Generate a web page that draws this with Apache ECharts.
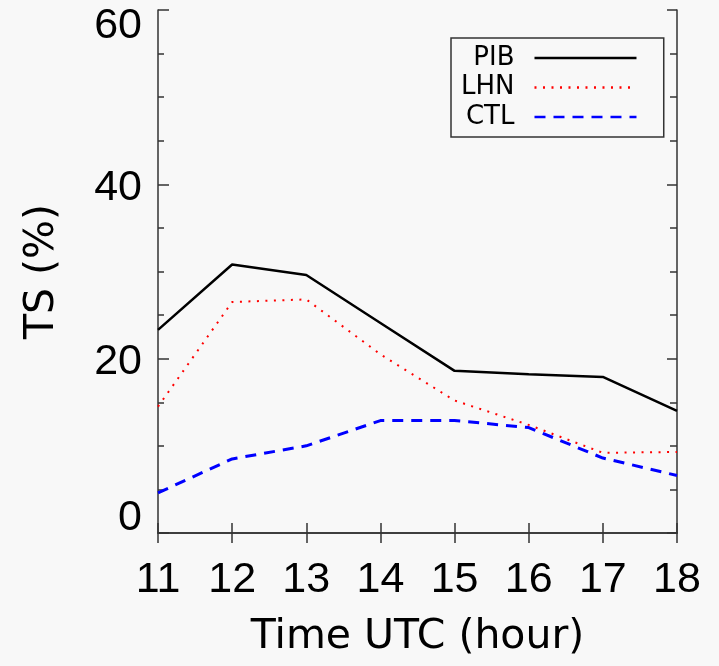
<!DOCTYPE html>
<html>
<head>
<meta charset="utf-8">
<script src="https://cdn.jsdelivr.net/npm/echarts@6/dist/echarts.min.js"></script>
<style>
  html, body { margin: 0; padding: 0; background: #f8f8f8; }
  #main { width: 719px; height: 666px; }
</style>
</head>
<body>
<div id="main"></div>
<script>
// hours (UTC)
var hours = [11, 12, 13, 14, 15, 16, 17, 18];
// TS (%) per experiment
var pib = [23.3, 30.8, 29.6, 24.1, 18.6, 18.2, 17.9, 14.0];
var lhn = [14.5, 26.5, 26.8, 20.5, 15.2, 12.4, 9.2, 9.3];
var ctl = [4.6, 8.5, 10.0, 12.9, 12.9, 12.1, 8.6, 6.6];

function pairs(vals) {
  return hours.map(function (h, i) { return [h, vals[i]]; });
}

var chart = echarts.init(document.getElementById("main"));
var frame = { show: true, lineStyle: { color: "#333", width: 1.5 } };
var numFont = "Liberation Sans";

chart.setOption({
  backgroundColor: "#f8f8f8",
  animation: false,
  grid: { left: 158, top: 10, right: 42, bottom: 133 },
  legend: {
    data: ["PIB", "LHN", "CTL"],
    orient: "vertical",
    align: "right",
    left: 451,
    top: 38,
    padding: [7, 26, 7, 10],
    itemWidth: 102,
    itemHeight: 14,
    itemGap: 3.5,
    borderColor: "#333",
    borderWidth: 1.5,
    itemStyle: { opacity: 0 },
    lineStyle: { width: 2.5 },
    textStyle: {
      fontFamily: "DejaVu Sans",
      fontSize: 26,
      color: "#000",
      width: 50,
      align: "right",
      padding: [0, 15, 0, 0],
    },
  },
  xAxis: [
    {
      type: "value",
      min: 11,
      max: 18,
      interval: 1,
      position: "bottom",
      axisLine: frame,
      axisTick: { inside: true, length: 10, lineStyle: { color: "#333", width: 1.5 } },
      splitLine: { show: false },
      axisLabel: { fontFamily: numFont, fontSize: 43, color: "#000", margin: 26 },
      name: "Time UTC (hour)",
      nameLocation: "middle",
      nameGap: 84,
      nameTextStyle: { fontFamily: "DejaVu Sans", fontSize: 41, color: "#000" },
    },
    {
      type: "value",
      min: 11,
      max: 18,
      interval: 1,
      position: "top",
      axisLine: frame,
      axisTick: { inside: true, length: 10, lineStyle: { color: "#333", width: 1.5 } },
      splitLine: { show: false },
      axisLabel: { show: false },
    },
  ],
  yAxis: [
    {
      type: "value",
      min: 0,
      max: 60,
      interval: 20,
      position: "left",
      axisLine: frame,
      axisTick: { inside: true, length: 11, lineStyle: { color: "#333", width: 1.5 } },
      minorTick: { show: true, splitNumber: 4, length: 6, lineStyle: { color: "#333", width: 1.5 } },
      splitLine: { show: false },
      axisLabel: {
        fontFamily: numFont,
        fontSize: 43,
        color: "#000",
        margin: 16,
        formatter: function (v) {
          if (v === 60) return "{top|" + v + "}";
          if (v === 0) return "{bot|" + v + "}";
          return "{mid|" + v + "}";
        },
        rich: {
          top: { fontFamily: numFont, fontSize: 43, color: "#000", padding: [32, 0, 0, 0] },
          bot: { fontFamily: numFont, fontSize: 43, color: "#000", padding: [0, 0, 30, 0] },
          mid: { fontFamily: numFont, fontSize: 43, color: "#000", padding: [7, 0, 0, 0] },
        },
      },
      name: "TS (%)",
      nameLocation: "middle",
      nameGap: 95,
      nameRotate: 90,
      nameTextStyle: { fontFamily: "DejaVu Sans", fontSize: 41, color: "#000" },
    },
    {
      type: "value",
      min: 0,
      max: 60,
      interval: 20,
      position: "right",
      axisLine: frame,
      axisTick: { inside: true, length: 10, lineStyle: { color: "#333", width: 1.5 } },
      minorTick: { show: true, splitNumber: 4, length: 7, lineStyle: { color: "#333", width: 1.5 } },
      splitLine: { show: false },
      axisLabel: { show: false },
    },
  ],
  series: [
    {
      name: "PIB",
      type: "line",
      symbol: "none",
      color: "#000",
      lineStyle: { color: "#000", width: 2.5, type: "solid" },
      data: pairs(pib),
    },
    {
      name: "LHN",
      type: "line",
      symbol: "none",
      color: "#ff0000",
      lineStyle: { color: "#ff0000", width: 2, type: [2, 6.5] },
      data: pairs(lhn),
    },
    {
      name: "CTL",
      type: "line",
      symbol: "none",
      color: "#0000ff",
      lineStyle: { color: "#0000ff", width: 3, type: [11, 8] },
      data: pairs(ctl),
    },
  ],
});
</script>
</body>
</html>
